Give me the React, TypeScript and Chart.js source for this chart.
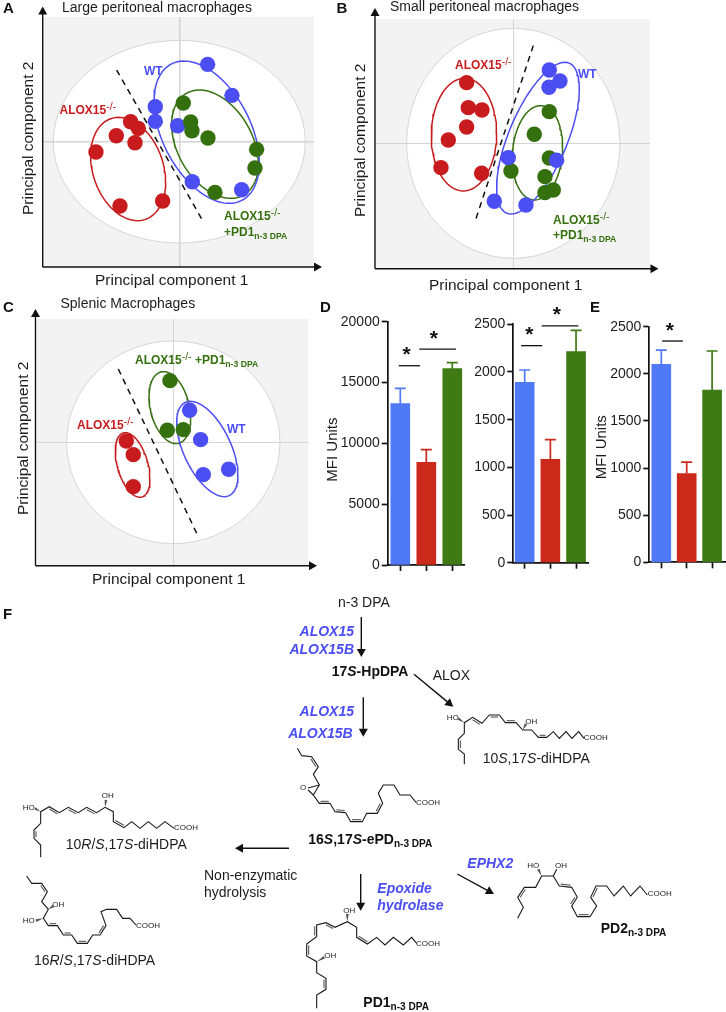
import { useEffect, useRef } from "react";
import { Chart, registerables } from "chart.js";
Chart.register(...registerables);

const FONT = '"Liberation Sans", Arial, Helvetica, sans-serif';
const W = 726, H = 1012;
const RED = "#c81b1d", BLUE = "#4a4ef3", GREEN = "#35700f", INK = "#1c1c1c";
const BAR_BLUE = "#5079f8", BAR_RED = "#cb2a1a", BAR_GREEN = "#3f7a14";

// ---------- PCA scores (centred on the crosshair) ----------
const aRed = [[-146,60],[-123,40],[-189,18],[-133,-3],[-250,-31],[-178,-193],[-50,-178]];
const aBlue = [[85,232],[158,139],[-72,105],[-72,61],[-5,48],[39,-120],[187,-144]];
const aGreen = [[12,116],[34,59],[38,33],[86,11],[232,-23],[227,-79],[107,-152]];
const bRed = [[-140,182],[-135,107],[-94,100],[-140,49],[-195,10],[-217,-73],[-95,-90]];
const bBlue = [[108,220],[140,187],[107,168],[-15,-43],[130,-51],[-57,-174],[38,-185]];
const bGreen = [[108,95],[63,27],[108,-44],[-7,-83],[95,-100],[120,-140],[95,-148]];
const cRed = [[-141,4],[-120,-37],[-120,-133]];
const cBlue = [[49,96],[82,8],[90,-97],[166,-81]];
const cGreen = [[-10,185],[-18,36],[30,38]];

// ---------- Bars ----------
const d1Means = [13260, 8440, 16140];
const d1Errors = [1260, 1040, 490];
const d2Means = [1892, 1084, 2213];
const d2Errors = [129, 206, 224];
const eMeans = [2100, 941, 1828];
const eErrors = [152, 123, 414];
const barColors = [BAR_BLUE, BAR_RED, BAR_GREEN];

type Ell = { cx: number; cy: number; hx: number; hy: number; rho: number };
const ellipsePoints = (e: Ell) => {
  const phi = Math.asin(e.rho);
  const pts: { x: number; y: number }[] = [];
  for (let i = 0; i <= 96; i++) {
    const t = (i / 96) * Math.PI * 2;
    pts.push({ x: e.cx + e.hx * Math.cos(t), y: e.cy + e.hy * Math.sin(t + phi) });
  }
  return pts;
};

// ---------- rich text ----------
function drawRich(ctx: CanvasRenderingContext2D, x: number, y: number, str: string, o: { size: number; bold?: boolean; italic?: boolean; color?: string; align?: string }) {
  const parts = str.split(/(\^\{[^}]*\}|_\{[^}]*\}|~[^~]*~)/).filter(Boolean);
  const fontOf = (sz: number, b?: boolean, i?: boolean) => `${i ? "italic " : ""}${b ? "bold " : ""}${sz}px ${FONT}`;
  const runs = parts.map((p) => {
    if (p.startsWith("^{")) return { t: p.slice(2, -1), f: fontOf(o.size * 0.88, false, o.italic), dy: -o.size * 0.36 };
    if (p.startsWith("_{")) return { t: p.slice(2, -1), f: fontOf(o.size * 0.72, o.bold, o.italic), dy: o.size * 0.22 };
    if (p.startsWith("~")) return { t: p.slice(1, -1), f: fontOf(o.size, o.bold, true), dy: 0 };
    return { t: p, f: fontOf(o.size, o.bold, o.italic), dy: 0 };
  });
  ctx.fillStyle = o.color || INK;
  ctx.textAlign = "left";
  ctx.textBaseline = "alphabetic";
  let total = 0;
  for (const r of runs) { ctx.font = r.f; total += ctx.measureText(r.t).width; }
  let cx = o.align === "right" ? x - total : x;
  for (const r of runs) { ctx.font = r.f; ctx.fillText(r.t, cx, y + r.dy); cx += ctx.measureText(r.t).width; }
}
function drawVertical(ctx: CanvasRenderingContext2D, x: number, y: number, str: string, size: number) {
  ctx.save(); ctx.translate(x, y); ctx.rotate(-Math.PI / 2);
  drawRich(ctx, 0, 0, str, { size }); ctx.restore();
}
function arrowHead(ctx: CanvasRenderingContext2D, x1: number, y1: number, x2: number, y2: number, len = 8, half = 4.5) {
  const a = Math.atan2(y2 - y1, x2 - x1);
  ctx.beginPath();
  ctx.moveTo(x2, y2);
  ctx.lineTo(x2 - len * Math.cos(a) + half * Math.sin(a), y2 - len * Math.sin(a) - half * Math.cos(a));
  ctx.lineTo(x2 - len * Math.cos(a) - half * Math.sin(a), y2 - len * Math.sin(a) + half * Math.cos(a));
  ctx.closePath(); ctx.fill();
}
function arrow(ctx: CanvasRenderingContext2D, x1: number, y1: number, x2: number, y2: number, lw = 1.4) {
  const a = Math.atan2(y2 - y1, x2 - x1);
  ctx.strokeStyle = "#111"; ctx.fillStyle = "#111"; ctx.lineWidth = lw;
  ctx.beginPath(); ctx.moveTo(x1, y1); ctx.lineTo(x2 - 6 * Math.cos(a), y2 - 6 * Math.sin(a)); ctx.stroke();
  arrowHead(ctx, x1, y1, x2, y2);
}

// ---------- PCA panels ----------
type Txt = { x: number; y: number; s: string; size: number; bold?: boolean; italic?: boolean; color?: string; align?: string };
const PANELS = [
  {
    letter: "A", letterAt: [3, 13],
    plot: { l: 43.3, t: 17, r: 314, b: 267 }, cross: [179.3, 141.7], gridW: 1.5, ptR: 7.7,
    red: aRed, blue: aBlue, green: aGreen, blueOnTop: false,
    outer: { cx: 0, cy: 0, hx: 378, hy: 304, rho: 0 },
    ellRed: { cx: -153.5, cy: -82, hx: 112.5, hy: 155, rho: -0.25 },
    ellBlue: { cx: 82, cy: 28.5, hx: 158, hy: 213.5, rho: -0.43 },
    ellGreen: { cx: 107, cy: -7.5, hx: 130, hy: 162.5, rho: -0.36 },
    dash: [[-188, 215], [72, -240]],
    axisX: 42.7, axisY: 267, tipTop: 6.5, tipRight: 322,
    title: { x: 62, y: 11.5, s: "Large peritoneal macrophages" },
    xLabel: [95, 285], yLabel: [33, 215],
    labels: [
      { x: 59.5, y: 114, s: "ALOX15^{-/-}", size: 12, bold: true, color: RED },
      { x: 144, y: 75, s: "WT", size: 12, bold: true, color: BLUE },
      { x: 224, y: 220, s: "ALOX15^{-/-}", size: 12, bold: true, color: GREEN },
      { x: 224, y: 236, s: "+PD1_{n-3 DPA}", size: 12, bold: true, color: GREEN },
    ] as Txt[],
  },
  {
    letter: "B", letterAt: [336.5, 13],
    plot: { l: 376, t: 19, r: 650, b: 268.7 }, cross: [513.3, 143.3], gridW: 1, ptR: 7.7,
    red: bRed, blue: bBlue, green: bGreen, blueOnTop: true,
    outer: { cx: 0, cy: 0, hx: 320, hy: 345, rho: 0 },
    ellRed: { cx: -148, cy: 26, hx: 98, hy: 169, rho: 0.02 },
    ellBlue: { cx: 74, cy: 15.5, hx: 124, hy: 227.5, rho: 0.65 },
    ellGreen: { cx: 72.5, cy: -28.5, hx: 75.5, hy: 141.5, rho: 0.12 },
    dash: [[60, 293], [-115, -235]],
    axisX: 375, axisY: 268.7, tipTop: 8, tipRight: 658.5,
    title: { x: 390, y: 11, s: "Small peritoneal macrophages" },
    xLabel: [429, 290], yLabel: [365, 217],
    labels: [
      { x: 455, y: 69, s: "ALOX15^{-/-}", size: 12, bold: true, color: RED },
      { x: 578, y: 78, s: "WT", size: 12, bold: true, color: BLUE },
      { x: 553, y: 224, s: "ALOX15^{-/-}", size: 12, bold: true, color: GREEN },
      { x: 553, y: 239, s: "+PD1_{n-3 DPA}", size: 12, bold: true, color: GREEN },
    ] as Txt[],
  },
  {
    letter: "C", letterAt: [3, 312],
    plot: { l: 36.7, t: 319, r: 308.3, b: 565.5 }, cross: [173.3, 442.3], gridW: 1, ptR: 7.7,
    red: cRed, blue: cBlue, green: cGreen, blueOnTop: false,
    outer: { cx: 0, cy: 0, hx: 320, hy: 304, rho: 0 },
    ellRed: { cx: -122, cy: -68, hx: 52, hy: 97, rho: -0.42 },
    ellBlue: { cx: 102, cy: -20, hx: 92, hy: 143, rho: -0.55 },
    ellGreen: { cx: -10.5, cy: 104, hx: 62.5, hy: 108, rho: -0.3 },
    dash: [[-165, 220], [75, -283]],
    axisX: 35.5, axisY: 565.7, tipTop: 309, tipRight: 317,
    title: { x: 60.5, y: 308, s: "Splenic Macrophages" },
    xLabel: [92, 584], yLabel: [28, 515],
    labels: [
      { x: 77, y: 429, s: "ALOX15^{-/-}", size: 12, bold: true, color: RED },
      { x: 227, y: 433, s: "WT", size: 12, bold: true, color: BLUE },
      { x: 135, y: 364, s: "ALOX15^{-/-} +PD1_{n-3 DPA}", size: 12, bold: true, color: GREEN },
    ] as Txt[],
  },
];

function makePca(canvas: HTMLCanvasElement, p: (typeof PANELS)[number]) {
  const { l, t, r, b } = p.plot;
  const [cx, cy] = p.cross;
  const toPts = (a: number[][]) => a.map(([x, y]) => ({ x, y }));
  const dot = (data: number[][], color: string, order: number) => ({
    data: toPts(data), backgroundColor: color, pointBackgroundColor: color, pointRadius: p.ptR, pointBorderWidth: 0, pointHoverRadius: p.ptR, showLine: false, order,
  });
  const ell = (e: Ell, color: string, order: number) => ({
    data: ellipsePoints(e), showLine: true, borderColor: color, borderWidth: 1.5, pointRadius: 0, fill: false, tension: 0, order,
  });
  const onlyZero = (s: any) => { s.ticks = [{ value: 0 }]; };
  const grid = { color: "#d4d4d4", lineWidth: p.gridW, drawTicks: false };
  const plugin = {
    id: "pca" + p.letter,
    beforeDraw(c: any) {
      const ctx = c.ctx, a = c.chartArea;
      ctx.save();
      ctx.fillStyle = "#f3f3f3"; ctx.fillRect(a.left, a.top, a.right - a.left, a.bottom - a.top);
      const sx = c.scales.x, sy = c.scales.y, o = p.outer;
      ctx.beginPath();
      ctx.ellipse(sx.getPixelForValue(o.cx), sy.getPixelForValue(o.cy), Math.abs(sx.getPixelForValue(o.hx) - sx.getPixelForValue(0)), Math.abs(sy.getPixelForValue(o.hy) - sy.getPixelForValue(0)), 0, 0, Math.PI * 2);
      ctx.fillStyle = "#fff"; ctx.fill();
      ctx.strokeStyle = "#d6d6d6"; ctx.lineWidth = 1; ctx.stroke();
      ctx.restore();
    },
    afterDraw(c: any) {
      const ctx = c.ctx;
      ctx.save();
      ctx.strokeStyle = "#111"; ctx.fillStyle = "#111"; ctx.lineWidth = 1.4;
      ctx.beginPath(); ctx.moveTo(p.axisX, p.axisY); ctx.lineTo(p.axisX, p.tipTop + 6); ctx.stroke();
      ctx.beginPath(); ctx.moveTo(p.axisX, p.axisY); ctx.lineTo(p.tipRight - 6, p.axisY); ctx.stroke();
      arrowHead(ctx, p.axisX, p.axisY, p.axisX, p.tipTop);
      arrowHead(ctx, p.axisX, p.axisY, p.tipRight, p.axisY);
      drawRich(ctx, p.letterAt[0], p.letterAt[1], p.letter, { size: 15, bold: true, color: "#111" });
      drawRich(ctx, p.title.x, p.title.y, p.title.s, { size: 14 });
      drawRich(ctx, p.xLabel[0], p.xLabel[1], "Principal component 1", { size: 15.5 });
      drawVertical(ctx, p.yLabel[0], p.yLabel[1], "Principal component 2", 15.5);
      p.labels.forEach((q) => drawRich(ctx, q.x, q.y, q.s, q));
      ctx.restore();
    },
  };
  return new Chart(canvas, {
    type: "scatter",
    data: {
      datasets: [
        dot(p.red, RED, 1),
        dot(p.blue, BLUE, p.blueOnTop ? 2 : 3),
        dot(p.green, GREEN, p.blueOnTop ? 3 : 2),
        ell(p.ellRed, RED, 10), ell(p.ellBlue, BLUE, 11), ell(p.ellGreen, GREEN, 12),
        { data: toPts(p.dash), showLine: true, borderColor: "#111", borderWidth: 1.5, borderDash: [6, 5], pointRadius: 0, tension: 0, order: 9 },
      ] as any,
    },
    options: {
      responsive: false, animation: false,
      layout: { padding: { left: l, top: t, right: W - r, bottom: H - b } },
      plugins: { legend: { display: false }, tooltip: { enabled: false }, title: { display: false } },
      scales: {
        x: { type: "linear", min: (l - cx) * 3, max: (r - cx) * 3, ticks: { display: false }, border: { display: false }, grid, afterBuildTicks: onlyZero },
        y: { type: "linear", min: (cy - b) * 3, max: (cy - t) * 3, ticks: { display: false }, border: { display: false }, grid, afterBuildTicks: onlyZero },
      },
    } as any,
    plugins: [plugin],
  });
}

// ---------- Bar panels ----------
const BARS = [
  {
    id: "D", means: d1Means, errors: d1Errors, yMax: 20000, step: 5000,
    l: 387.7, r: 465, t: 321.7, b: 565, c0: 400.3, sp: 26, title: "MFI Units", titleAt: [337.3, 481.7], left: 324,
    brackets: [{ from: -0.06, to: 0.76, level: 16380, star: 0.24 }, { from: 0.73, to: 2.14, level: 17750, star: 1.29 }],
  },
  {
    id: "D2", means: d2Means, errors: d2Errors, yMax: 2500, step: 500,
    l: 513.3, r: 588.3, t: 324.3, b: 562.7, c0: 524.7, sp: 25.67, title: "", titleAt: [0, 0], left: 450,
    brackets: [{ from: -0.14, to: 0.68, level: 2276, star: 0.18 }, { from: 0.66, to: 2.09, level: 2483, star: 1.25 }],
  },
  {
    id: "E", means: eMeans, errors: eErrors, yMax: 2500, step: 500,
    l: 649.3, r: 725, t: 326.7, b: 562.3, c0: 661.3, sp: 25.4, title: "MFI Units", titleAt: [606, 479.3], left: 592,
    brackets: [{ from: 0.03, to: 0.85, level: 2348, star: 0.34 }],
  },
];

function makeBars(canvas: HTMLCanvasElement, p: (typeof BARS)[number]) {
  const plugin = {
    id: "bars" + p.id,
    afterDatasetsDraw(c: any) {
      const ctx = c.ctx, sx = c.scales.x, sy = c.scales.y;
      ctx.save();
      p.means.forEach((m, i) => {
        const x = sx.getPixelForValue(i), y0 = sy.getPixelForValue(m), y1 = sy.getPixelForValue(m + p.errors[i]);
        ctx.strokeStyle = barColors[i]; ctx.lineWidth = 1.7;
        ctx.beginPath(); ctx.moveTo(x, y0); ctx.lineTo(x, y1); ctx.moveTo(x - 5.5, y1); ctx.lineTo(x + 5.5, y1); ctx.stroke();
      });
      ctx.strokeStyle = "#111"; ctx.lineWidth = 1.3; ctx.fillStyle = "#111";
      p.brackets.forEach((br) => {
        const y = sy.getPixelForValue(br.level);
        ctx.beginPath(); ctx.moveTo(sx.getPixelForValue(br.from), y); ctx.lineTo(sx.getPixelForValue(br.to), y); ctx.stroke();
        ctx.font = `bold 21px ${FONT}`; ctx.textAlign = "center"; ctx.textBaseline = "alphabetic";
        ctx.fillText("*", sx.getPixelForValue(br.star), y - 4.5);
      });
      if (p.title) drawVertical(ctx, p.titleAt[0], p.titleAt[1], p.title, 15);
      ctx.restore();
    },
  };
  return new Chart(canvas, {
    type: "bar",
    data: {
      datasets: [{
        data: p.means.map((y, i) => ({ x: i, y })),
        backgroundColor: barColors, borderWidth: 0, barThickness: 19,
      }],
    },
    options: {
      responsive: false, animation: false,
      layout: { padding: { left: p.left, top: p.t, right: W - p.r, bottom: H - p.b - 6 } },
      plugins: { legend: { display: false }, tooltip: { enabled: false } },
      scales: {
        x: {
          type: "linear", offset: false,
          min: (p.l - p.c0) / p.sp, max: (p.r - p.c0) / p.sp,
          ticks: { display: false },
          afterBuildTicks: (s: any) => { s.ticks = p.means.map((_, i) => ({ value: i })); },
          afterFit: (s: any) => { s.height = 6; },
          grid: { offset: false, drawOnChartArea: false, drawTicks: true, tickLength: 6, tickWidth: 1.7, tickColor: "#111" },
          border: { display: true, color: "#111", width: 1.7 },
        },
        y: {
          min: 0, max: p.yMax,
          ticks: { stepSize: p.step, padding: 2, color: INK, font: { family: FONT, size: 14 }, callback: (v: any) => String(v) },
          afterFit: (s: any) => { s.width = p.l - p.left; },
          grid: { drawOnChartArea: false, drawTicks: true, tickLength: 6, tickWidth: 1.7, tickColor: "#111" },
          border: { display: true, color: "#111", width: 1.7 },
        },
      },
    } as any,
    plugins: [plugin],
  });
}

// ---------- Scheme F: skeletal formulae, each on a 3x grid with an origin ----------
type Mol = { o: number[]; chains: { pts: number[][]; dbl: number[] }[]; wedges: number[][]; labels: [string, number, number][] };
const MOLECULES: Mol[] = [
  { o: [280, 590],
    chains: [{ pts: [[553,523],[553,492],[535,478],[535,448],[553,430],[553,398],[578,382],[606,400],[628,375],[658,375],[676,398],[708,398],[728,420],[755,420],[775,442],[800,442],[820,425],[838,445],[858,425],[876,445],[896,425],[912,445]], dbl: [2,6,8,10,14] }],
    wedges: [[553,398,535,386],[728,420,738,402]],
    labels: [["HO",500,391],["OH",736,401],["COOH",911,450]] },
  { o: [280, 590],
    chains: [
      { pts: [[52,475],[65,497],[95,500],[115,530],[100,553],[118,585],[100,615],[118,640],[150,640],[165,665],[197,668]], dbl: [2,7,9] },
      { pts: [[118,585],[84,594]], dbl: [] }, { pts: [[100,615],[84,600]], dbl: [] },
    ],
    wedges: [],
    labels: [["O",60,601]] },
  { o: [330, 740],
    chains: [{ pts: [[47,218],[62,245],[97,245],[110,220],[142,220],[158,190],[145,160],[160,135],[192,135],[210,165],[240,165],[258,187]], dbl: [1,4] }],
    wedges: [],
    labels: [["COOH",258,195]] },
  { o: [0, 780],
    chains: [{ pts: [[122,232],[122,195],[102,175],[102,150],[122,130],[122,95],[148,80],[178,98],[205,82],[235,98],[260,82],[290,98],[315,82],[340,95],[340,125],[372,143],[395,125],[420,145],[445,125],[470,145],[495,125],[522,145]], dbl: [2,6,8,10,14] }],
    wedges: [[122,95,105,85],[315,82,318,60]],
    labels: [["HO",68,90],["OH",305,55],["COOH",522,150]] },
  { o: [0, 780],
    chains: [{ pts: [[80,288],[95,310],[125,310],[142,335],[125,365],[145,388],[130,415],[145,437],[172,437],[190,465],[215,465],[232,490],[262,490],[278,465],[300,465],[318,437],[303,395],[320,388],[350,388],[368,415],[390,415],[408,435]], dbl: [2,7,9,11,14] }],
    wedges: [[145,388,160,378],[130,415,108,422]],
    labels: [["OH",157,382],["HO",68,430],["COOH",408,443]] },
  { o: [290, 810],
    chains: [{ pts: [[80,595],[80,555],[108,538],[108,505],[80,488],[80,455],[50,438],[50,402],[80,380],[80,345],[108,338],[135,352],[172,335],[200,352],[200,382],[232,402],[260,382],[285,405],[310,382],[340,405],[365,382],[380,400]], dbl: [2,6,8,10,14] }],
    wedges: [[172,335,172,312],[80,455,103,442]],
    labels: [["OH",160,308],["OH",103,445],["COOH",378,407]] },
  { o: [290, 810],
    chains: [
      { pts: [[683,325],[700,292],[683,262],[703,232],[737,232],[755,198],[790,198],[808,228],[845,232],[862,262],[845,288],[862,320],[900,320],[920,288],[902,262],[918,228],[950,228],[972,258],[1000,228],[1022,258],[1050,228],[1072,255]], dbl: [2,7,9,11,14] },
      { pts: [[790,198],[800,178]], dbl: [] },
    ],
    wedges: [[755,198,745,178]],
    labels: [["HO",712,173],["OH",795,173],["COOH",1073,258]] },
];
const ARROWS = [
  [361.3,617,361.3,657],[414,674.3,453.3,706.7],[363.3,697.3,363.3,736.7],
  [289,848.3,235,848.3],[360.7,874,360.7,910.7],[457.3,874,494,894],
];
const SCHEME_TEXT: Txt[] = [
  { x: 3, y: 619, s: "F", size: 15, bold: true, color: "#111" },
  { x: 320, y: 312, s: "D", size: 15, bold: true, color: "#111" },
  { x: 590, y: 312, s: "E", size: 15, bold: true, color: "#111" },
  { x: 338, y: 607, s: "n-3 DPA", size: 14 },
  { x: 354, y: 635.7, s: "ALOX15", size: 14, bold: true, italic: true, color: BLUE, align: "right" },
  { x: 354, y: 654, s: "ALOX15B", size: 14, bold: true, italic: true, color: BLUE, align: "right" },
  { x: 331.7, y: 676, s: "17~S~-HpDPA", size: 14, bold: true, color: "#111" },
  { x: 432.7, y: 680, s: "ALOX", size: 14 },
  { x: 354, y: 716, s: "ALOX15", size: 14, bold: true, italic: true, color: BLUE, align: "right" },
  { x: 352.7, y: 738.3, s: "ALOX15B", size: 14, bold: true, italic: true, color: BLUE, align: "right" },
  { x: 482.7, y: 763.3, s: "10~S~,17~S~-diHDPA", size: 14 },
  { x: 308.3, y: 844, s: "16~S~,17~S~-ePD_{n-3 DPA}", size: 14, bold: true, color: "#111" },
  { x: 65.7, y: 849.3, s: "10~R~/~S~,17~S~-diHDPA", size: 14 },
  { x: 34, y: 965, s: "16~R~/~S~,17~S~-diHDPA", size: 14 },
  { x: 204, y: 880, s: "Non-enzymatic", size: 14 },
  { x: 204, y: 896.7, s: "hydrolysis", size: 14 },
  { x: 467.3, y: 868.3, s: "EPHX2", size: 14, bold: true, italic: true, color: BLUE },
  { x: 377.3, y: 893.3, s: "Epoxide", size: 14, bold: true, italic: true, color: BLUE },
  { x: 377.3, y: 910, s: "hydrolase", size: 14, bold: true, italic: true, color: BLUE },
  { x: 600.7, y: 932.7, s: "PD2_{n-3 DPA}", size: 14, bold: true, color: "#111" },
  { x: 363.3, y: 1007, s: "PD1_{n-3 DPA}", size: 14, bold: true, color: "#111" },
];

function makeScheme(canvas: HTMLCanvasElement) {
  const datasets: any[] = [];
  const line = (pts: { x: number; y: number }[], color: string, w: number) =>
    datasets.push({ data: pts, showLine: true, borderColor: color, borderWidth: w, pointRadius: 0, tension: 0 });
  MOLECULES.forEach((m) => {
    const map = (q: number[]) => ({ x: m.o[0] + q[0] / 3, y: m.o[1] + q[1] / 3 });
    m.chains.forEach((ch) => {
      const pts = ch.pts.map(map);
      line(pts, "#1a1a1a", 1.1);
      ch.dbl.forEach((i) => {
        const a = pts[i], b = pts[i + 1], ref = pts[i - 1] || pts[i + 2];
        const dx = b.x - a.x, dy = b.y - a.y, len = Math.hypot(dx, dy);
        let nx = -dy / len, ny = dx / len;
        if ((ref.x - a.x) * nx + (ref.y - a.y) * ny < 0) { nx = -nx; ny = -ny; }
        const ux = dx / len, uy = dy / len;
        line([
          { x: a.x + nx * 2 + ux * 1.2, y: a.y + ny * 2 + uy * 1.2 },
          { x: b.x + nx * 2 - ux * 1.2, y: b.y + ny * 2 - uy * 1.2 },
        ], "#555", 1.1);
      });
    });
  });
  const plugin = {
    id: "scheme",
    afterDraw(c: any) {
      const ctx = c.ctx, sx = c.scales.x, sy = c.scales.y;
      ctx.save();
      MOLECULES.forEach((m) => {
        const px = (z: number) => sx.getPixelForValue(m.o[0] + z / 3);
        const py = (z: number) => sy.getPixelForValue(m.o[1] + z / 3);
        m.wedges.forEach(([x1, y1, x2, y2]) => {
          const a = Math.atan2(py(y2) - py(y1), px(x2) - px(x1));
          ctx.fillStyle = "#555";
          ctx.beginPath(); ctx.moveTo(px(x1), py(y1));
          ctx.lineTo(px(x2) + 1.4 * Math.sin(a), py(y2) - 1.4 * Math.cos(a));
          ctx.lineTo(px(x2) - 1.4 * Math.sin(a), py(y2) + 1.4 * Math.cos(a));
          ctx.closePath(); ctx.fill();
        });
        m.labels.forEach(([s, x, y]) => drawRich(ctx, px(x), py(y), s, { size: 8, color: "#222" }));
      });
      ARROWS.forEach(([a, b, d, e]) => arrow(ctx, sx.getPixelForValue(a), sy.getPixelForValue(b), sx.getPixelForValue(d), sy.getPixelForValue(e)));
      SCHEME_TEXT.forEach((q) => drawRich(ctx, sx.getPixelForValue(q.x), sy.getPixelForValue(q.y), q.s, q));
      ctx.restore();
    },
  };
  return new Chart(canvas, {
    type: "scatter",
    data: { datasets },
    options: {
      responsive: false, animation: false,
      layout: { padding: 0 },
      plugins: { legend: { display: false }, tooltip: { enabled: false } },
      scales: {
        x: { type: "linear", display: false, min: 0, max: W },
        y: { type: "linear", display: false, min: 0, max: H, reverse: true },
      },
    } as any,
    plugins: [plugin],
  });
}

export default function App() {
  const refs = useRef<(HTMLCanvasElement | null)[]>([]);
  useEffect(() => {
    const charts: Chart[] = [];
    PANELS.forEach((p, i) => charts.push(makePca(refs.current[i]!, p)));
    BARS.forEach((p, i) => charts.push(makeBars(refs.current[3 + i]!, p)));
    charts.push(makeScheme(refs.current[6]!));
    return () => charts.forEach((c) => c.destroy());
  }, []);
  return (
    <div style={{ position: "absolute", left: 0, top: 0, width: W, height: H, background: "#fff", overflow: "hidden" }}>
      {Array.from({ length: 7 }).map((_, i) => (
        <canvas key={i} ref={(el) => { refs.current[i] = el; }} width={W} height={H}
          style={{ position: "absolute", left: 0, top: 0, width: W, height: H, display: "block" }} />
      ))}
    </div>
  );
}
